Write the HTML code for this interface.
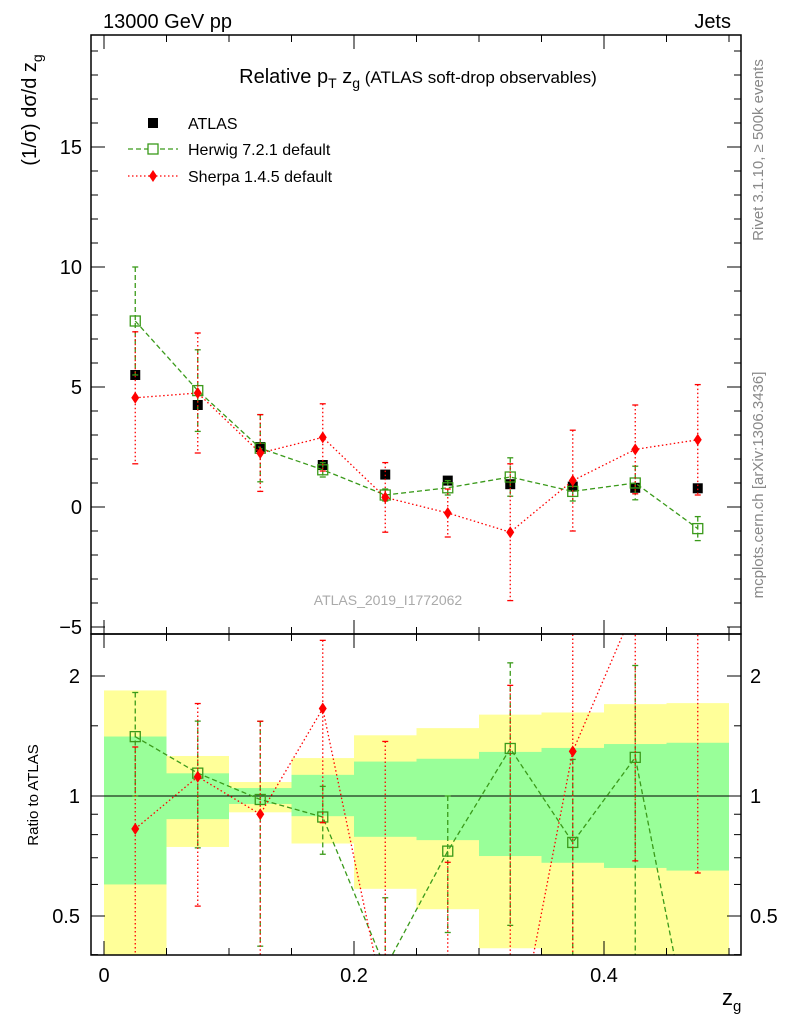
<!DOCTYPE html>
<html><head><meta charset="utf-8"><style>
html,body{margin:0;background:#fff;width:786px;height:1024px;overflow:hidden;position:relative}
svg{display:block;font-family:"Liberation Sans",sans-serif}
</style></head><body>
<svg id="c" width="786" height="1024" style="position:absolute;left:0;top:0"></svg>
<script>
const binCenters=[0.025,0.075,0.125,0.175,0.225,0.275,0.325,0.375,0.425,0.475];
const atlasVals=[5.5,4.25,2.5,1.75,1.35,1.1,0.95,0.85,0.8,0.78];
const atlasErr=[0.2,0.2,0.15,0.12,0.1,0.1,0.1,0.1,0.1,0.1];
const herwigVals=[7.75,4.85,2.45,1.55,0.5,0.8,1.25,0.65,1.0,-0.9];
const herwigErr=[2.25,1.7,1.4,0.3,0.25,0.3,0.8,0.4,0.7,0.5];
const sherpaVals=[4.55,4.75,2.25,2.9,0.4,-0.25,-1.05,1.1,2.4,2.8];
const sherpaErr=[2.75,2.5,1.6,1.4,1.45,1.0,2.85,2.1,1.85,2.3];
const greenHi=[1.41,1.14,1.047,1.13,1.22,1.24,1.29,1.32,1.35,1.36];
const greenLo=[0.60,0.875,0.955,0.89,0.79,0.775,0.707,0.68,0.66,0.65];
const yellowHi=[1.84,1.26,1.084,1.245,1.42,1.48,1.6,1.62,1.7,1.71];
const yellowLo=[0.3,0.745,0.91,0.76,0.585,0.52,0.415,0.3,0.3,0.3];
const mainTicks=[-5,0,5,10,15];
const ratioTicks=[0.5,1,2];
const xTicks=[0,0.2,0.4];

const NS="http://www.w3.org/2000/svg",svg=document.getElementById('c');
function el(t,a,p){const e=document.createElementNS(NS,t);for(const k in a)e.setAttribute(k,a[k]);(p||svg).appendChild(e);return e;}
const L=91,R=741,T=35,MB=634,RB=955;
const X=v=>104+v*1250;
const Y=v=>507-v*24;
const YR=v=>796-120*Math.log2(Math.max(v,0.2));
const defs=el('defs',{});
const c1=el('clipPath',{id:'cm'},defs);el('rect',{x:L,y:T,width:R-L,height:MB-T},c1);
const c2=el('clipPath',{id:'cr'},defs);el('rect',{x:L,y:MB,width:R-L,height:RB-MB},c2);
const gm=el('g',{'clip-path':'url(#cm)'});
const gr=el('g',{'clip-path':'url(#cr)'});
binCenters.forEach((c,i)=>{
 const x0=X(c-0.025),x1=X(c+0.025);
 const y=el('rect',{x:x0,y:YR(yellowHi[i]),width:x1-x0,height:YR(yellowLo[i])-YR(yellowHi[i]),fill:'#ffff99'},gr);
 
 const g=el('rect',{x:x0,y:YR(greenHi[i]),width:x1-x0,height:YR(greenLo[i])-YR(greenHi[i]),fill:'#99ff99'},gr);
 
});
el('line',{x1:L,x2:R,y1:YR(1),y2:YR(1),stroke:'#000','stroke-width':1},gr);
function series(vals,errs,col,dash,mk,g,yf,ratio){
 const pts=binCenters.map((c,i)=>{let v=vals[i],e=errs[i];if(ratio){e=e/atlasVals[i];v=v/atlasVals[i];}return [X(c),v,e];});
 const pl=el('polyline',{points:pts.map(p=>p[0]+','+yf(p[1])).join(' '),fill:'none',stroke:col,'stroke-width':1.3,'stroke-dasharray':dash},g);
 
 pts.forEach(p=>{
  const lo=p[1]-p[2];
  const eb=el('line',{x1:p[0],x2:p[0],y1:yf(p[1]+p[2]),y2:yf(lo),stroke:col,'stroke-width':1.3,'stroke-dasharray':dash},g);
  
  [p[1]+p[2],lo].forEach(v=>el('line',{x1:p[0]-3,x2:p[0]+3,y1:yf(v),y2:yf(v),stroke:col,'stroke-width':1.3},g));
  const yy=yf(p[1]);let m;
  if(mk=='herwig')m=el('rect',{x:p[0]-5,y:yy-5,width:10,height:10,fill:'none',stroke:col,'stroke-width':1.3},g);
  else m=el('polygon',{points:`${p[0]},${yy-6} ${p[0]+4},${yy} ${p[0]},${yy+6} ${p[0]-4},${yy}`,fill:col},g);
  
 });
}
binCenters.forEach((c,i)=>{
 el('line',{x1:X(c),x2:X(c),y1:Y(atlasVals[i]+atlasErr[i]),y2:Y(atlasVals[i]-atlasErr[i]),stroke:'#000'},gm);
 const m=el('rect',{x:X(c)-5,y:Y(atlasVals[i])-5,width:10,height:10,fill:'#000'},gm);
 
});
series(herwigVals,herwigErr,'#3a9a1a','5,3','herwig',gm,Y,false);
series(sherpaVals,sherpaErr,'#f00','1.5,2.5','sherpa',gm,Y,false);
series(herwigVals,herwigErr,'#3a9a1a','5,3','herwig',gr,YR,true);
series(sherpaVals,sherpaErr,'#f00','1.5,2.5','sherpa',gr,YR,true);
el('rect',{x:L,y:T,width:R-L,height:MB-T,fill:'none',stroke:'#000','stroke-width':1.5});
el('rect',{x:L,y:MB,width:R-L,height:RB-MB,fill:'none',stroke:'#000','stroke-width':1.5});
function txt(x,y,s,a,parent){const t=el('text',Object.assign({x:x,y:y},a),parent);t.textContent=s;return t;}
for(let v=-5;v<=19;v++){const y=Y(v),len=v%5==0?14:7;el('line',{x1:L,x2:L+len,y1:y,y2:y,stroke:'#000'});el('line',{x1:R,x2:R-len,y1:y,y2:y,stroke:'#000'});}
mainTicks.forEach(v=>{const t=txt(82,Y(v)+7,v<0?'−'+(-v):String(v),{'font-size':20,'text-anchor':'end'});});
for(let i=0;i<=10;i++){const v=i*0.05,x=X(v),len=i%4==0?14:7;[MB,RB].forEach(b=>el('line',{x1:x,x2:x,y1:b,y2:b-len,stroke:'#000'}));el('line',{x1:x,x2:x,y1:T,y2:T+len,stroke:'#000'});el('line',{x1:x,x2:x,y1:MB,y2:MB+len,stroke:'#000'});}
xTicks.forEach(v=>{const t=txt(X(v),982,String(v),{'font-size':20,'text-anchor':'middle'});});
[0.4,0.5,0.6,0.7,0.8,0.9,1,1.5,2].forEach(v=>{const y=YR(v),len=ratioTicks.includes(v)?14:7;el('line',{x1:L,x2:L+len,y1:y,y2:y,stroke:'#000'});el('line',{x1:R,x2:R-len,y1:y,y2:y,stroke:'#000'});});
ratioTicks.forEach(v=>{txt(80,YR(v)+7,String(v),{'font-size':20,'text-anchor':'end'});txt(750,YR(v)+7,String(v),{'font-size':20});});
</script>
<svg width="786" height="1024" style="position:absolute;left:0;top:0" font-family="Liberation Sans, sans-serif">
<text x="103" y="28" font-size="20">13000 GeV pp</text>
<text x="731" y="28" font-size="20" text-anchor="end">Jets</text>
<text x="418" y="83" font-size="20" text-anchor="middle">Relative p<tspan font-size="14" dy="5">T</tspan><tspan dy="-5"> z</tspan><tspan font-size="14" dy="5">g</tspan><tspan dy="-5" font-size="17"> (ATLAS soft-drop observables)</tspan></text>
<g font-size="16">
<rect x="148" y="118" width="10" height="10" fill="#000"/><text x="188" y="129">ATLAS</text>
<line x1="128" x2="178" y1="149" y2="149" stroke="#3a9a1a" stroke-dasharray="5,3" stroke-width="1.3"/><rect x="148" y="144" width="10" height="10" fill="#fff" stroke="#3a9a1a" stroke-width="1.3"/><text x="188" y="155">Herwig 7.2.1 default</text>
<line x1="128" x2="178" y1="176" y2="176" stroke="#f00" stroke-dasharray="1.5,2.5" stroke-width="1.3"/><polygon points="153,170 157,176 153,182 149,176" fill="#f00"/><text x="188" y="182">Sherpa 1.4.5 default</text>
</g>
<text x="388" y="605" font-size="14" fill="#aaa" text-anchor="middle">ATLAS_2019_I1772062</text>
<text transform="translate(763,150) rotate(-90)" font-size="15" fill="#888" text-anchor="middle">Rivet 3.1.10, ≥ 500k events</text>
<text transform="translate(763,485) rotate(-90)" font-size="15" fill="#888" text-anchor="middle">mcplots.cern.ch [arXiv:1306.3436]</text>
<text transform="translate(36,110) rotate(-90)" font-size="20" text-anchor="middle">(1/σ) dσ/d z<tspan font-size="14" dy="6">g</tspan></text>
<text transform="translate(38,795) rotate(-90)" font-size="15" text-anchor="middle">Ratio to ATLAS</text>
<text x="722" y="1005" font-size="22">z<tspan font-size="15" dy="6">g</tspan></text>
</svg>
</body></html>
